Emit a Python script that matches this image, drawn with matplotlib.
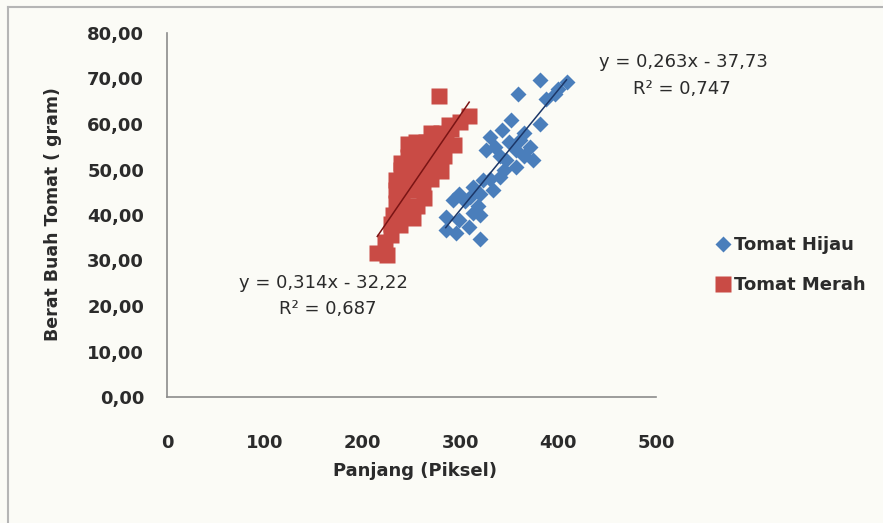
import matplotlib
matplotlib.use("Agg")
import matplotlib.pyplot as plt
from matplotlib.lines import Line2D

# data
hijau_x = [408.5, 399.8, 381, 359, 388, 396.5, 381, 352, 343, 330,
           361, 371, 357, 326, 374, 357, 347, 340, 323, 313,
           299, 292, 320, 333, 285, 299, 313, 320, 285, 309,
           320, 296, 335, 350, 365, 345, 330, 305, 310, 318,
           365, 340]
hijau_y = [69.3, 67.8, 69.7, 66.7, 65.6, 66.7, 60.1, 60.9, 58.7, 57.2,
           56.5, 55.0, 54.3, 54.3, 52.1, 50.6, 52.1, 48.4, 47.7, 46.2,
           44.7, 43.3, 44.7, 45.5, 39.6, 38.9, 40.4, 40.0, 36.7, 37.4,
           34.8, 36.0, 55.0, 56.0, 53.0, 50.0, 48.0, 43.0, 44.0, 42.0,
           58.0, 53.0]

merah_x = [215, 225, 229, 223, 229, 231, 238, 242, 252, 234,
           240, 248, 256, 263, 234, 240, 247, 255, 262, 270,
           234, 240, 250, 258, 280, 239, 239, 246, 255, 265,
           275, 283, 246, 252, 262, 270, 278, 246, 255, 265,
           275, 285, 293, 270, 280, 288, 290, 300, 309, 278]
merah_y = [31.6, 31.2, 35.6, 34.0, 38.0, 40.0, 37.8, 39.5, 39.3, 42.6,
           43.0, 42.0, 42.0, 43.7, 45.5, 46.0, 45.5, 46.0, 46.5, 48.0,
           47.7, 48.5, 48.5, 49.0, 49.6, 50.0, 51.4, 51.0, 51.0, 51.0,
           51.5, 53.0, 52.7, 54.0, 54.0, 53.0, 54.0, 55.7, 56.0, 56.0,
           55.7, 56.0, 55.4, 58.0, 58.0, 59.7, 59.0, 60.5, 61.8, 66.2]

# trendline coefficients printed on the chart
fit_hijau = (0.263, -37.73)
fit_merah = (0.314, -32.22)

x_ticks = [0, 100, 200, 300, 400, 500]
y_ticks = [0, 10, 20, 30, 40, 50, 60, 70, 80]

BLUE = "#4a7ebb"
RED = "#c94b45"
TXT = "#2b2b2b"
W, H = 883, 523

fig = plt.figure(figsize=(W / 100, H / 100), dpi=100)
fig.patch.set_facecolor("#fbfbf6")

# thin grey frame at top and left of the chart area
fig.add_artist(Line2D([8 / W, 8 / W], [0, 1 - 7 / H], color="#b5b5b5", lw=1.5))
fig.add_artist(Line2D([8 / W, 1], [1 - 7 / H, 1 - 7 / H], color="#b5b5b5", lw=1.5))

ax = fig.add_axes([167 / W, 1 - 397 / H, (656 - 167) / W, (397 - 33) / H])
ax.set_facecolor("none")

ax.plot(hijau_x, hijau_y, linestyle="none", marker="D", ms=8,
        color=BLUE, mec="none", label="Tomat Hijau")
ax.plot(merah_x, merah_y, linestyle="none", marker="s", ms=12,
        color=RED, mec="none", label="Tomat Merah")

# linear trendlines over each series' range
for xs, (m, c), col in [(hijau_x, fit_hijau, "#1c3768"),
                        (merah_x, fit_merah, "#7a1414")]:
    x0, x1 = min(xs), max(xs)
    ax.plot([x0, x1], [m * x0 + c, m * x1 + c], color=col, lw=1.1)

ax.set_xlim(0, 500)
ax.set_ylim(0, 80)
ax.set_xticks(x_ticks)
ax.set_yticks(y_ticks)
ax.set_xticklabels([str(t) for t in x_ticks])
ax.set_yticklabels([f"{t:.2f}".replace(".", ",") for t in y_ticks])
ax.tick_params(axis="both", length=0, labelsize=13, labelcolor=TXT)
ax.tick_params(axis="y", pad=16.5)
ax.tick_params(axis="x", pad=27)
for lab in ax.get_xticklabels() + ax.get_yticklabels():
    lab.set_fontweight("bold")

for s in ["top", "right"]:
    ax.spines[s].set_visible(False)
for s in ["left", "bottom"]:
    ax.spines[s].set_color("#8c8c8c")
    ax.spines[s].set_linewidth(1.2)

ax.set_xlabel("Panjang (Piksel)", fontsize=13, fontweight="bold",
              color=TXT, va="center")
ax.xaxis.set_label_coords((415 - 167) / 489, (397 - 471) / 364)
ax.set_ylabel("Berat Buah Tomat ( gram)", fontsize=12.5, fontweight="bold",
              color=TXT, va="center")
ax.yaxis.set_label_coords((53 - 167) / 489, (397 - 214) / 364)

# trendline equations
fig.text(683 / W, 1 - 62 / H, "y = 0,263x - 37,73", fontsize=13,
         color=TXT, ha="center", va="center")
fig.text(682 / W, 1 - 89 / H, "R² = 0,747", fontsize=13,
         color=TXT, ha="center", va="center")
fig.text(323 / W, 1 - 283 / H, "y = 0,314x - 32,22", fontsize=13,
         color=TXT, ha="center", va="center")
fig.text(328 / W, 1 - 309 / H, "R² = 0,687", fontsize=13,
         color=TXT, ha="center", va="center")

leg = ax.legend(loc="center left", bbox_to_anchor=(705 / W, 1 - 265 / H),
                bbox_transform=fig.transFigure, frameon=False, borderpad=0,
                handlelength=1.0, handletextpad=0.1, labelspacing=1.2,
                prop={"size": 13, "weight": "bold"})
for t in leg.get_texts():
    t.set_color(TXT)

fig.savefig("out.png", dpi=100, facecolor=fig.get_facecolor())
